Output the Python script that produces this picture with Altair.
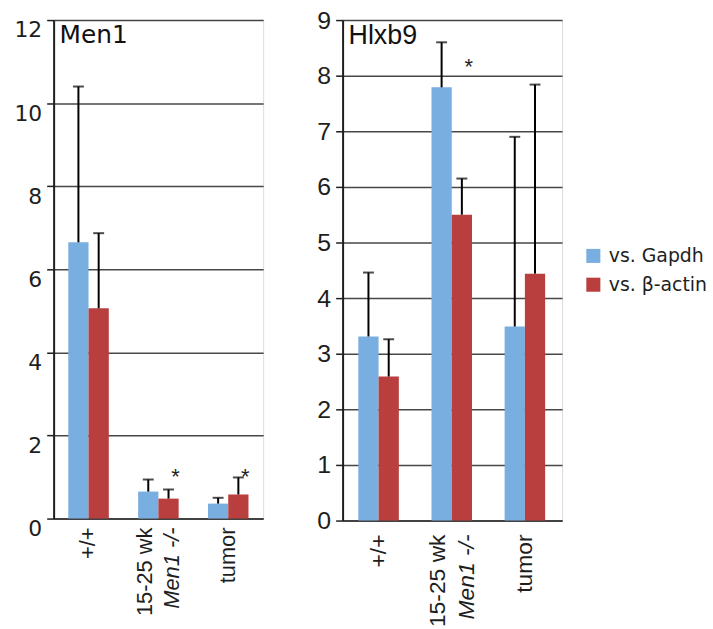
import altair as alt
import pandas as pd

# ---------------- data ----------------
categories = ["+/+", "15-25 wk Men1 -/-", "tumor"]
series = ["vs. Gapdh", "vs. β-actin"]

men1_gapdh = [6.65, 0.65, 0.36]
men1_gapdh_upper = [10.40, 0.94, 0.50]
men1_actin = [5.06, 0.48, 0.58]
men1_actin_upper = [6.87, 0.70, 0.99]
men1_star_cats = ["15-25 wk Men1 -/-", "tumor"]
men1_star_y = [1.12, 1.12]

hlxb9_gapdh = [3.31, 7.79, 3.49]
hlxb9_gapdh_upper = [4.46, 8.60, 6.90]
hlxb9_actin = [2.59, 5.50, 4.44]
hlxb9_actin_upper = [3.26, 6.15, 7.84]
hlxb9_star_cats = ["15-25 wk Men1 -/-"]
hlxb9_star_y = [8.25]

# x tick label lines for each category (second line of the middle one is italic)
label_lines = {
    "+/+": ["+/+"],
    "15-25 wk Men1 -/-": ["15-25 wk", "Men1 -/-"],
    "tumor": ["tumor"],
}
italic_lines = {("15-25 wk Men1 -/-", 1)}

BLUE = "#79aee0"
RED = "#b93e3e"
BG = "#c9cbca"
GRID = "#333333"
INK = "#1e1e1e"


def bar_frame(g, gu, a, au):
    rows = []
    for i, c in enumerate(categories):
        rows.append({"cat": c, "series": series[0], "value": g[i], "upper": gu[i]})
        rows.append({"cat": c, "series": series[1], "value": a[i], "upper": au[i]})
    return pd.DataFrame(rows)


def label_frame():
    rows = []
    for c in categories:
        lines = label_lines[c]
        for j, t in enumerate(lines):
            rows.append({"cat": c, "text": t, "n": len(lines), "idx": j,
                         "italic": (c, j) in italic_lines, "base": 0})
    return pd.DataFrame(rows)


legend = alt.Legend(
    orient="none", legendX=534, legendY=228, title=None,
    symbolType="square", symbolSize=200, symbolStrokeWidth=0,
    labelFont="DejaVu Sans", labelFontSize=19, labelColor=INK,
    rowPadding=9, labelOffset=6, padding=0,
)


def panel(title, df, stars_c, stars_y, ymax, yvals, w, h, tick_font, tick_size,
          tick_label_offset, title_font, title_size, label_size, line_sp, p_inner,
          label_gap):
    xenc = alt.X("cat:N", sort=categories,
                 scale=alt.Scale(paddingInner=p_inner, paddingOuter=p_inner / 2),
                 axis=alt.Axis(labels=False, ticks=False, title=None, domain=True,
                               domainColor=GRID, domainWidth=1.5, grid=False))
    xoff = alt.XOffset("series:N", sort=series,
                       scale=alt.Scale(paddingInner=0, paddingOuter=0))
    yscale = alt.Scale(domain=[0, ymax], nice=False, zero=True)
    yaxis = alt.Axis(values=yvals, title=None, format="d", labelFont=tick_font,
                     labelFontSize=tick_size, labelColor=INK, labelPadding=5,
                     labelOffset=tick_label_offset,
                     tickSize=7, tickColor=INK, tickWidth=1.5,
                     domainColor=INK, domainWidth=2,
                     grid=True, gridColor=GRID, gridWidth=1.5, gridOpacity=0.9)

    def Y(field):
        return alt.Y(field, scale=yscale, axis=yaxis)

    base = alt.Chart(df).encode(x=xenc, xOffset=xoff)
    bars = base.mark_bar().encode(
        y=Y("value:Q"),
        color=alt.Color("series:N", scale=alt.Scale(domain=series, range=[BLUE, RED]),
                        legend=legend),
    )
    rules = base.mark_rule(color="black", strokeWidth=2).encode(
        y=Y("value:Q"), y2="upper:Q")
    caps = base.mark_tick(color="black", thickness=2, size=11).encode(
        y=Y("upper:Q"))

    sdf = pd.DataFrame({"cat": stars_c, "series": [series[1]] * len(stars_c),
                        "y": stars_y})
    stars = alt.Chart(sdf).mark_text(
        text="*", fontSize=22, font="Liberation Sans", color=INK, dx=7, dy=5,
        baseline="middle").encode(x=xenc, xOffset=xoff, y=Y("y:Q"))

    # rotated labels: in the rotated frame dx runs up the screen, dy to the right
    ldf = label_frame()
    label_layers = []
    for (n, idx, it), _ in ldf.groupby(["n", "idx", "italic"]):
        right_shift = (idx - (n - 1) / 2) * line_sp
        sub = alt.Chart(ldf).transform_filter(
            (alt.datum.n == int(n)) & (alt.datum.idx == int(idx))
            & (alt.datum.italic == bool(it))
        ).mark_text(
            angle=270, align="right", baseline="middle",
            dx=-label_gap, dy=right_shift,
            font="Liberation Sans", fontSize=label_size, color=INK,
            fontStyle="italic" if it else "normal",
        ).encode(x=xenc, y=Y("base:Q"), text="text:N")
        label_layers.append(sub)

    ttl = alt.Chart(pd.DataFrame({"t": [title]})).mark_text(
        align="left", baseline="top", font=title_font, fontSize=title_size,
        color="#111").encode(x=alt.value(6), y=alt.value(3), text="t:N")

    return alt.layer(bars, rules, caps, stars, ttl, *label_layers).properties(
        width=w, height=h)


left = panel("Men1",
             bar_frame(men1_gapdh, men1_gapdh_upper, men1_actin, men1_actin_upper),
             men1_star_cats, men1_star_y, 12, [0, 2, 4, 6, 8, 10, 12], 211, 502,
             "DejaVu Sans", 22, 10, "DejaVu Sans", 25, 22, 27, 0.42, 9)
right = panel("Hlxb9",
              bar_frame(hlxb9_gapdh, hlxb9_gapdh_upper, hlxb9_actin, hlxb9_actin_upper),
              hlxb9_star_cats, hlxb9_star_y, 9, list(range(10)), 221, 504,
              "Liberation Sans", 25, 0, "Liberation Sans", 27, 23, 29, 0.43, 14)

chart = alt.hconcat(left, right, spacing=52).properties(
    padding={"left": 13, "top": 5, "right": 5, "bottom": -1}
).configure_view(
    fill=BG, stroke="#8a8a8a", strokeWidth=2
).configure(background="white")

chart.save("out.html", embed_options={"renderer": "svg", "actions": False})
